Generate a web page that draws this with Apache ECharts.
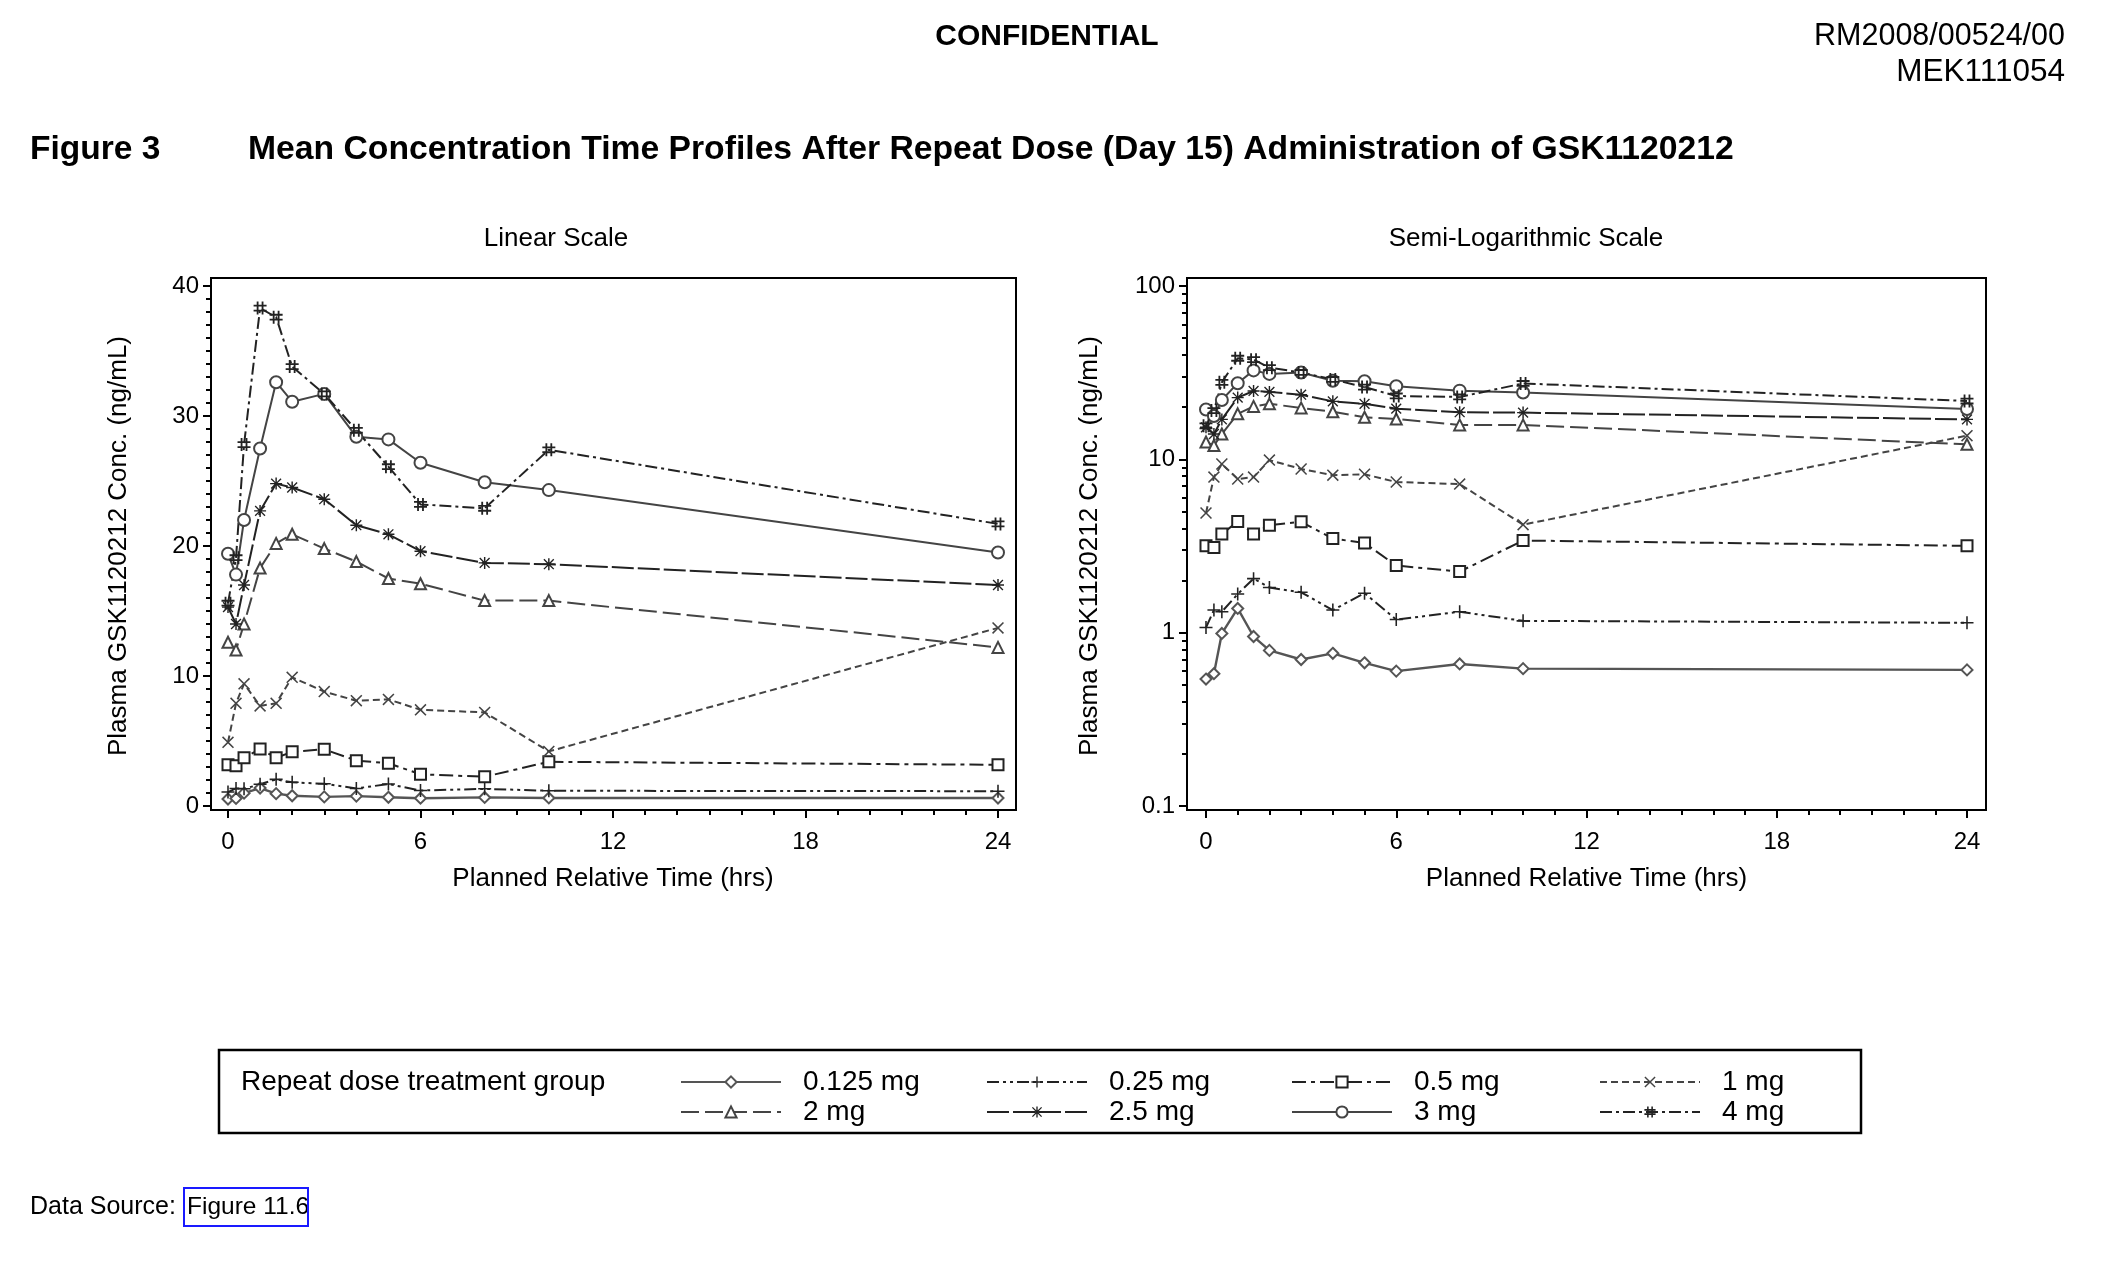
<!DOCTYPE html>
<html><head><meta charset="utf-8">
<script src="https://cdn.jsdelivr.net/npm/echarts@6/dist/echarts.min.js"></script>
<style>html,body{margin:0;padding:0;background:#fff}#c{width:2102px;height:1272px}</style>
</head><body><div id="c"></div>
<script>
// ---- data ----
const times = [0, 0.25, 0.5, 1, 1.5, 2, 3, 4, 5, 6, 8, 10, 24];
const dose0125 = [0.54, 0.58, 0.99, 1.38, 0.95, 0.79, 0.70, 0.76, 0.67, 0.60, 0.66, 0.62, 0.61];
const dose025  = [1.07, 1.35, 1.32, 1.67, 2.05, 1.82, 1.71, 1.35, 1.69, 1.19, 1.32, 1.17, 1.14];
const dose05   = [3.17, 3.10, 3.71, 4.38, 3.71, 4.17, 4.36, 3.49, 3.29, 2.44, 2.25, 3.40, 3.17];
const dose1    = [4.9, 7.9, 9.4, 7.7, 7.9, 9.9, 8.8, 8.1, 8.2, 7.4, 7.2, 4.2, 13.7];
const dose2    = [12.6, 12.0, 14.0, 18.3, 20.2, 20.9, 19.8, 18.8, 17.5, 17.1, 15.8, 15.8, 12.2];
const dose25   = [15.3, 14.0, 17.0, 22.7, 24.8, 24.5, 23.6, 21.6, 20.9, 19.6, 18.7, 18.6, 17.0];
const dose3    = [19.4, 17.8, 22.0, 27.5, 32.6, 31.1, 31.7, 28.4, 28.2, 26.4, 24.9, 24.3, 19.5];
const dose4    = [15.6, 19.1, 27.8, 38.3, 37.6, 33.8, 31.7, 28.9, 26.1, 23.2, 22.9, 27.4, 21.7];
const groups = ['0.125 mg', '0.25 mg', '0.5 mg', '1 mg', '2 mg', '2.5 mg', '3 mg', '4 mg'];
const xTickLabels = [0, 6, 12, 18, 24];
const linTickLabels = [0, 10, 20, 30, 40];
const logTickLabels = [0.1, 1, 10, 100];
const legendColumns = [['0.125 mg', '2 mg'], ['0.25 mg', '2.5 mg'], ['0.5 mg', '3 mg'], ['1 mg', '4 mg']];

const values = [dose0125, dose025, dose05, dose1, dose2, dose25, dose3, dose4];

// ---- styles ----
const FONT = "'Liberation Sans', Arial, sans-serif";
const P_PLUS = 'path://M4.4,0 L5.6,0 L5.6,10 L4.4,10 Z M0,4.4 L10,4.4 L10,5.6 L0,5.6 Z';
const P_X = 'path://M0.9,0 L5,4.1 L9.1,0 L10,0.9 L5.9,5 L10,9.1 L9.1,10 L5,5.9 L0.9,10 L0,9.1 L4.1,5 L0,0.9 Z';
const P_STAR = 'path://M4.4,0 L5.6,0 L5.6,10 L4.4,10 Z M0,4.4 L10,4.4 L10,5.6 L0,5.6 Z M1.3,0.5 L5,4.2 L8.7,0.5 L9.5,1.3 L5.8,5 L9.5,8.7 L8.7,9.5 L5,5.8 L1.3,9.5 L0.5,8.7 L4.2,5 L0.5,1.3 Z';
const P_HASH = 'path://M2.4,0 L3.8,0 L3.8,10 L2.4,10 Z M6.2,0 L7.6,0 L7.6,10 L6.2,10 Z M0,2.4 L10,2.4 L10,3.8 L0,3.8 Z M0,6.2 L10,6.2 L10,7.6 L0,7.6 Z';
const styles = [
  {symbol: 'emptyDiamond', size: 11, color: '#555', dash: 'solid', width: 2.4},
  {symbol: P_PLUS, size: 13, color: '#222', dash: [12, 4, 3, 4, 3, 4], width: 2},
  {symbol: 'emptyRect', size: 11, color: '#222', dash: [14, 5, 4, 5], width: 2},
  {symbol: P_X, size: 12, color: '#444', dash: [7, 4], width: 2},
  {symbol: 'emptyTriangle', size: 11, color: '#444', dash: [18, 6], width: 2},
  {symbol: P_STAR, size: 12, color: '#222', dash: [22, 4], width: 2},
  {symbol: 'emptyCircle', size: 12, color: '#444', dash: 'solid', width: 2},
  {symbol: P_HASH, size: 13, color: '#222', dash: [12, 4, 3, 4], width: 2}
];

function makeSeries(xIdx, yIdx) {
  return groups.map((g, i) => {
    const s = styles[i];
    const empty = typeof s.symbol === 'string' && s.symbol.indexOf('empty') === 0;
    return {
      name: g, type: 'line', xAxisIndex: xIdx, yAxisIndex: yIdx,
      data: times.map((t, j) => [t, values[i][j]]),
      symbol: s.symbol, symbolSize: s.size, showAllSymbol: true,
      lineStyle: {color: s.color, width: s.width, type: s.dash},
      itemStyle: {color: s.color, borderColor: s.color, borderWidth: empty ? 1.6 : 0},
      emphasis: {disabled: true}, animation: false, z: 3
    };
  });
}

// layout (pixels)
const L = {frame: [211, 278, 805, 532], grid: {left: 228, top: 286, width: 770, height: 520}};
const R = {frame: [1187, 278, 799, 532], grid: {left: 1206, top: 286, width: 761, height: 520}};

const minorLog = [];
[0.1, 1, 10].forEach(d => { for (let k = 2; k <= 9; k++) minorLog.push(Math.log10(k * d)); });

const axisText = {fontFamily: FONT, fontSize: 24, color: '#000'};
const majorTick = {show: true, length: 8, lineStyle: {color: '#000', width: 2}};
const minorTickStyle = {color: '#000', width: 2};
function xAxisDef(gi) {
  return {
    type: 'value', gridIndex: gi, min: 0, max: 24, interval: 6, offset: 4, position: 'bottom',
    axisLine: {show: false, onZero: false},
    axisTick: majorTick,
    minorTick: {show: true, splitNumber: 6, length: 5, lineStyle: minorTickStyle},
    axisLabel: Object.assign({margin: 20, formatter: v => (xTickLabels.indexOf(v) >= 0 ? String(v) : '')}, axisText),
    splitLine: {show: false}, minorSplitLine: {show: false},
    name: 'Planned Relative Time (hrs)', nameLocation: 'middle', nameGap: 56,
    nameTextStyle: {fontFamily: FONT, fontSize: 26, color: '#000'}
  };
}

const option = {
  backgroundColor: '#fff',
  animation: false,
  grid: [
    Object.assign({containLabel: false}, L.grid),
    Object.assign({containLabel: false}, R.grid)
  ],
  xAxis: [xAxisDef(0), xAxisDef(1)],
  yAxis: [
    {
      type: 'value', gridIndex: 0, min: 0, max: 40, interval: 10, offset: L.grid.left - L.frame[0], position: 'left',
      axisLine: {show: false, onZero: false},
      axisTick: majorTick,
      minorTick: {show: true, splitNumber: 10, length: 5, lineStyle: minorTickStyle},
      axisLabel: Object.assign({margin: 12, formatter: v => (linTickLabels.indexOf(v) >= 0 ? String(v) : '')}, axisText),
      splitLine: {show: false}, minorSplitLine: {show: false},
      name: 'Plasma GSK1120212 Conc. (ng/mL)', nameLocation: 'middle', nameGap: 79, nameRotate: 90,
      nameTextStyle: {fontFamily: FONT, fontSize: 26, color: '#000'}
    },
    {
      type: 'log', logBase: 10, gridIndex: 1, min: 0.1, max: 100, offset: R.grid.left - R.frame[0], position: 'left',
      axisLine: {show: false, onZero: false},
      axisTick: majorTick,
      axisLabel: Object.assign({margin: 12, formatter: v => {
        const f = logTickLabels.find(t => Math.abs(t - v) < t * 1e-6);
        return f === undefined ? '' : String(f);
      }}, axisText),
      splitLine: {show: false},
      name: 'Plasma GSK1120212 Conc. (ng/mL)', nameLocation: 'middle', nameGap: 84, nameRotate: 90,
      nameTextStyle: {fontFamily: FONT, fontSize: 26, color: '#000'}
    },
    {
      type: 'value', gridIndex: 1, min: -1, max: 2, offset: R.grid.left - R.frame[0], position: 'left',
      axisLine: {show: false, onZero: false},
      axisTick: {show: true, length: 5, customValues: minorLog, lineStyle: minorTickStyle},
      axisLabel: {show: false},
      splitLine: {show: false}
    }
  ],
  legend: legendColumns.map((col, ci) => ({
    data: col, orient: 'vertical', left: [680, 986, 1291, 1599][ci], top: 1068, padding: 0,
    itemWidth: 100, itemHeight: 14, itemGap: 2, selectedMode: false,
    textStyle: {fontFamily: FONT, fontSize: 28, color: '#000', padding: [0, 0, 0, 17]}
  })),
  series: makeSeries(0, 0).concat(makeSeries(1, 1)),
  graphic: [
    {type: 'rect', shape: {x: L.frame[0], y: L.frame[1], width: L.frame[2], height: L.frame[3]}, style: {fill: 'none', stroke: '#000', lineWidth: 2}, z: 10, silent: true},
    {type: 'rect', shape: {x: R.frame[0], y: R.frame[1], width: R.frame[2], height: R.frame[3]}, style: {fill: 'none', stroke: '#000', lineWidth: 2}, z: 10, silent: true},
    {type: 'rect', shape: {x: 219, y: 1050, width: 1642, height: 83}, style: {fill: 'none', stroke: '#000', lineWidth: 2.5}, z: 10, silent: true},
    {type: 'text', x: 1047, y: 37, style: {text: 'CONFIDENTIAL', font: 'bold 30px ' + FONT, fill: '#000', textAlign: 'center', textVerticalAlign: 'middle'}},
    {type: 'text', x: 2065, y: 37, style: {text: 'RM2008/00524/00', font: '30.5px ' + FONT, fill: '#000', textAlign: 'right', textVerticalAlign: 'middle'}},
    {type: 'text', x: 2065, y: 72, style: {text: 'MEK111054', font: '31.5px ' + FONT, fill: '#000', textAlign: 'right', textVerticalAlign: 'middle'}},
    {type: 'text', x: 30, y: 150, style: {text: 'Figure 3', font: 'bold 33.5px ' + FONT, fill: '#000', textAlign: 'left', textVerticalAlign: 'middle'}},
    {type: 'text', x: 248, y: 150, style: {text: 'Mean Concentration Time Profiles After Repeat Dose (Day 15) Administration of GSK1120212', font: 'bold 33.7px ' + FONT, fill: '#000', textAlign: 'left', textVerticalAlign: 'middle'}},
    {type: 'text', x: 556, y: 239, style: {text: 'Linear Scale', font: '26px ' + FONT, fill: '#000', textAlign: 'center', textVerticalAlign: 'middle'}},
    {type: 'text', x: 1526, y: 239, style: {text: 'Semi-Logarithmic Scale', font: '26px ' + FONT, fill: '#000', textAlign: 'center', textVerticalAlign: 'middle'}},
    {type: 'text', x: 241, y: 1082, style: {text: 'Repeat dose treatment group', font: '28px ' + FONT, fill: '#000', textAlign: 'left', textVerticalAlign: 'middle'}},
    {type: 'text', x: 30, y: 1207, style: {text: 'Data Source:', font: '25px ' + FONT, fill: '#000', textAlign: 'left', textVerticalAlign: 'middle'}},
    {type: 'text', x: 187, y: 1207, style: {text: 'Figure 11.6', font: '24.5px ' + FONT, fill: '#000', textAlign: 'left', textVerticalAlign: 'middle'}},
    {type: 'rect', shape: {x: 184, y: 1188, width: 124, height: 38}, style: {fill: 'none', stroke: '#1a1aff', lineWidth: 2}, silent: true}
  ]
};

const chart = echarts.init(document.getElementById('c'), null, {renderer: 'canvas'});
chart.setOption(option);
</script></body></html>
